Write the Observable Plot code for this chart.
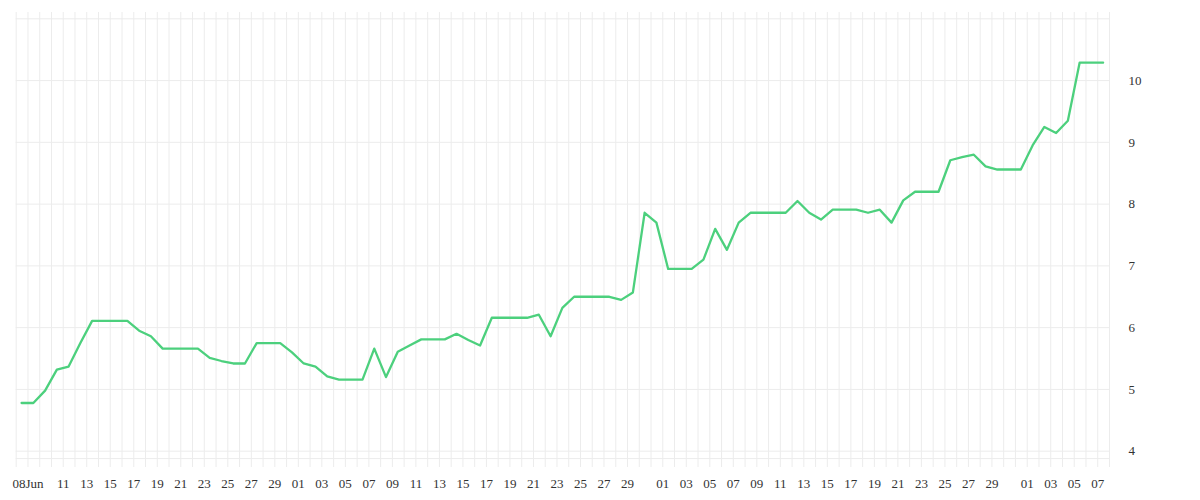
<!DOCTYPE html>
<html><head><meta charset="utf-8">
<script src="https://cdn.jsdelivr.net/npm/d3@7"></script>
<script src="https://cdn.jsdelivr.net/npm/@observablehq/plot@0.6"></script>
<style>
html,body{margin:0;padding:0;background:#fff}
#chart svg{display:block}
#chart svg, #chart svg text{font-family:"Liberation Serif", serif !important;font-size:13px !important}
</style>
</head><body><div id="chart"></div>
<script>
// Series: one value per day, starting at startDate
const startDate = "2024-06-07T11:00:00Z";
const values = [
  4.78, 4.78, 4.98, 5.32, 5.37, 5.75, 6.11, 6.11, 6.11, 6.11,
  5.95, 5.86, 5.66, 5.66, 5.66, 5.66, 5.51, 5.46, 5.42, 5.42,
  5.75, 5.75, 5.75, 5.60, 5.42, 5.37, 5.21, 5.16, 5.16, 5.16,
  5.66, 5.20, 5.61, 5.71, 5.81, 5.81, 5.81, 5.90, 5.80, 5.71,
  6.16, 6.16, 6.16, 6.16, 6.21, 5.86, 6.32, 6.50, 6.50, 6.50,
  6.50, 6.45, 6.57, 7.86, 7.70, 6.95, 6.95, 6.95, 7.10, 7.60,
  7.26, 7.70, 7.86, 7.86, 7.86, 7.86, 8.05, 7.86, 7.75, 7.91,
  7.91, 7.91, 7.86, 7.91, 7.70, 8.06, 8.20, 8.20, 8.20, 8.71,
  8.76, 8.80, 8.61, 8.56, 8.56, 8.56, 8.95, 9.25, 9.15, 9.35,
  10.29, 10.29, 10.29
];

// X tick dates and labels
const xTickDates = [
  "2024-06-08","2024-06-11","2024-06-13","2024-06-15","2024-06-17","2024-06-19","2024-06-21","2024-06-23","2024-06-25","2024-06-27","2024-06-29",
  "2024-07-01","2024-07-03","2024-07-05","2024-07-07","2024-07-09","2024-07-11","2024-07-13","2024-07-15","2024-07-17","2024-07-19","2024-07-21","2024-07-23","2024-07-25","2024-07-27","2024-07-29",
  "2024-08-01","2024-08-03","2024-08-05","2024-08-07","2024-08-09","2024-08-11","2024-08-13","2024-08-15","2024-08-17","2024-08-19","2024-08-21","2024-08-23","2024-08-25","2024-08-27","2024-08-29",
  "2024-09-01","2024-09-03","2024-09-05","2024-09-07"
];
const xTickLabels = [
  "08Jun","11","13","15","17","19","21","23","25","27","29",
  "01","03","05","07","09","11","13","15","17","19","21","23","25","27","29",
  "01","03","05","07","09","11","13","15","17","19","21","23","25","27","29",
  "01","03","05","07"
];
const xDomain = ["2024-06-07", "2024-09-08"];

// Y ticks
const yTickValues = [4, 5, 6, 7, 8, 9, 10];
const yTickLabels = ["4", "5", "6", "7", "8", "9", "10"];
const yGridValues = [4, 5, 6, 7, 8, 9, 10, 11];
const yBaseline = 3.88;
const yDomain = [3.736, 11.102];

const data = values.map((v, i) => ({date: new Date(Date.parse(startDate) + i * 864e5), value: v}));
const tickDates = xTickDates.map(s => new Date(s + "T00:00:00Z"));
const labelMap = new Map(tickDates.map((d, i) => [+d, xTickLabels[i]]));
const yLabelMap = new Map(yTickValues.map((v, i) => [v, yTickLabels[i]]));
const dayGrid = d3.utcDay.range(new Date(xDomain[0] + "T00:00:00Z"), d3.utcDay.offset(new Date(xDomain[1] + "T00:00:00Z"), 1));

const gridColor = "#ececec";
const font = {fontFamily: "Liberation Serif, serif", fontSize: 13};

const chart = Plot.plot({
  width: 1200,
  height: 500,
  marginLeft: 15.7,
  marginRight: 91,
  marginTop: 12,
  marginBottom: 33,
  style: {fontFamily: "Liberation Serif, serif", fontSize: "13px", color: "#333", background: "#fff"},
  x: {type: "utc", domain: [new Date(xDomain[0] + "T00:00:00Z"), new Date(xDomain[1] + "T00:00:00Z")], label: null},
  y: {domain: yDomain, label: null},
  marks: [
    Plot.gridX(dayGrid, {stroke: gridColor, strokeOpacity: 1}),
    Plot.gridY(yGridValues, {stroke: gridColor, strokeOpacity: 1}),
    Plot.ruleY([yBaseline], {stroke: gridColor, strokeOpacity: 1}),
    Plot.axisX(tickDates, {tickSize: 0, tickPadding: 11, tickFormat: d => labelMap.get(+d), label: null, fill: "#333", ...font}),
    Plot.axisY(yTickValues, {anchor: "right", tickSize: 0, tickPadding: 19, tickFormat: v => yLabelMap.get(v), label: null, fill: "#333", ...font}),
    Plot.line(data, {x: "date", y: "value", stroke: "#4cd07d", strokeWidth: 2.3, strokeLinejoin: "round"})
  ]
});
document.getElementById("chart").appendChild(chart);
</script>
</body></html>
